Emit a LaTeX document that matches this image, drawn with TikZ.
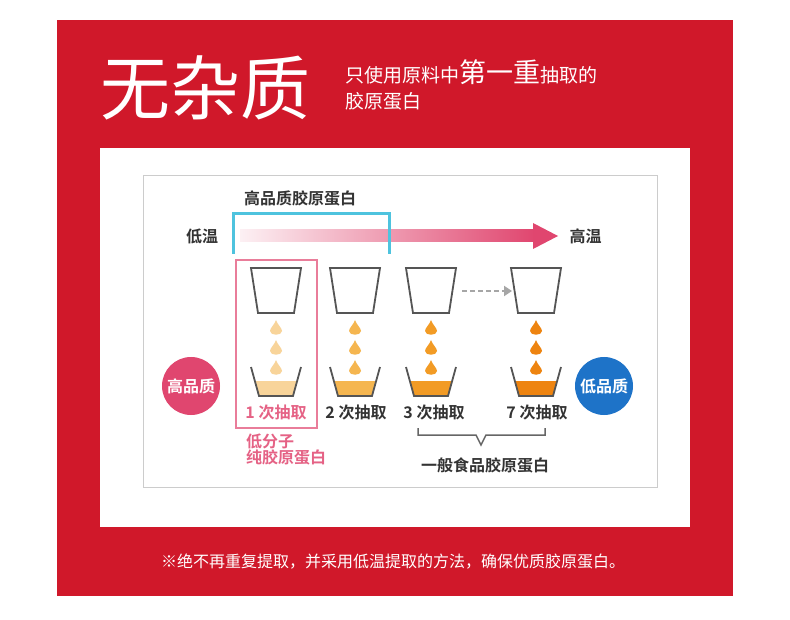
\documentclass[tikz,border=0pt]{standalone}
\usepackage{fontspec}
\setmainfont{Noto Sans CJK SC}[BoldFont={Noto Sans CJK SC Bold}]
\usetikzlibrary{arrows.meta,shadings}
\definecolor{bgred}{HTML}{D0182A}
\definecolor{cyanb}{HTML}{4EC3DE}
\definecolor{pinkc}{HTML}{E0466F}
\definecolor{bluec}{HTML}{1E73C8}
\definecolor{cupg}{HTML}{555555}
\definecolor{txt}{HTML}{333333}
\definecolor{d1}{HTML}{F8D49A}
\definecolor{d2}{HTML}{F5B650}
\definecolor{d3}{HTML}{F29B25}
\definecolor{d4}{HTML}{EE8410}
\tikzset{
  cup/.style={draw=cupg,line width=1.8pt,fill=white},
  lbl/.style={text=txt,font=\fontsize{16}{16}\selectfont\bfseries},
}
\newcommand{\mydrop}[3]{\fill[#3] (#1,#2-8) .. controls (#1+1,#2-4) and (#1+6,#2) .. (#1+6,#2+3) .. controls (#1+6,#2+8) and (#1-6,#2+8) .. (#1-6,#2+3) .. controls (#1-6,#2) and (#1-1,#2-4) .. (#1,#2-8);}
\newcommand{\mycup}[4]{% x, name, fillcolor, dropcolor
  \draw[cup] (#1-25,268) -- (#1+25,268) -- (#1+18,313) -- (#1-18,313) -- cycle;
  \mydrop{#1}{328}{#4}\mydrop{#1}{348}{#4}\mydrop{#1}{368}{#4}
  \fill[#3] (#1-21,381) -- (#1+21,381) -- (#1+17,396) -- (#1-17,396) -- cycle;
  \draw[cupg,line width=1.8pt] (#1-25,367) -- (#1-17,396) -- (#1+17,396) -- (#1+25,367);
  \coordinate (#2) at (#1,396);
}
\begin{document}
\begin{tikzpicture}[x=1pt,y=-1pt]
\useasboundingbox (0,0) rectangle (790,620);
\fill[white] (0,0) rectangle (790,620);
\fill[bgred] (57,20) rectangle (733,596);
\fill[white] (100,148) rectangle (690,527);
\draw[gray!40,line width=0.8pt] (143,175) rectangle (657,487);
\node[text=white,font=\fontsize{70}{70}\selectfont,anchor=west,inner sep=0pt] (title) at (100,88) {无杂质};
\node[text=white,anchor=west,font=\fontsize{19}{19}\selectfont,inner sep=0pt] (sub1) at (345,72) {只使用原料中{\fontsize{27}{27}\selectfont 第一重}抽取的};
\node[text=white,anchor=west,font=\fontsize{19}{19}\selectfont,inner sep=0pt] (sub2) at (345,101) {胶原蛋白};
\node[lbl] (hq) at (300,198) {高品质胶原蛋白};
\node[lbl] (low) at (202,236) {低温};
\node[lbl,anchor=west] (high) at (566,236) {高温};
\shade[left color=pinkc!8,right color=pinkc] (240,230) rectangle (535,242);
\fill[pinkc] (533,223) -- (558,236) -- (533,249) -- cycle;
\draw[cyanb,line width=3pt] (233,254) -- (233,214) -- (389,214) -- (389,254);
\draw[pinkc!70,line width=2pt] (236,260) rectangle (317,428);
\mycup{276}{c1}{d1}{d1}
\mycup{355}{c2}{d2}{d2}
\mycup{431}{c3}{d3}{d3}
\mycup{536}{c4}{d4}{d4}
\draw[gray!70,line width=2.6pt,dash pattern=on 5pt off 3pt,-{Triangle[length=8pt,width=10pt]}] (462,291) -- (512,291);
\node[font=\fontsize{16}{16}\selectfont\bfseries,text=pinkc!85] (l1) at (276,412) {1 次抽取};
\node[lbl] (l2) at (356,412) {2 次抽取};
\node[lbl] (l3) at (434,412) {3 次抽取};
\node[lbl] (l7) at (537,412) {7 次抽取};
\node[circle,fill=pinkc,minimum size=58pt,text=white,font=\fontsize{16}{16}\selectfont\bfseries,inner sep=0pt] (cq) at (191,386) {高品质};
\node[circle,fill=bluec,minimum size=58pt,text=white,font=\fontsize{16}{16}\selectfont\bfseries,inner sep=0pt] (cl) at (604,386) {低品质};
\draw[gray!80!black,line width=1.5pt] (418,428) -- (418,435) -- (476,435) -- (481,445) -- (486,435) -- (545,435) -- (545,428);
\node[lbl] (gen) at (485,465) {一般食品胶原蛋白};
\node[text=pinkc!85,font=\fontsize{16}{16}\selectfont\bfseries,align=left,anchor=north west,inner sep=0pt] (lm) at (246,434) {低分子\\纯胶原蛋白};
\node[text=white,font=\fontsize{16}{16}\selectfont] (foot) at (393,562) {※绝不再重复提取，并采用低温提取的方法，确保优质胶原蛋白。};
\end{tikzpicture}
\end{document}
